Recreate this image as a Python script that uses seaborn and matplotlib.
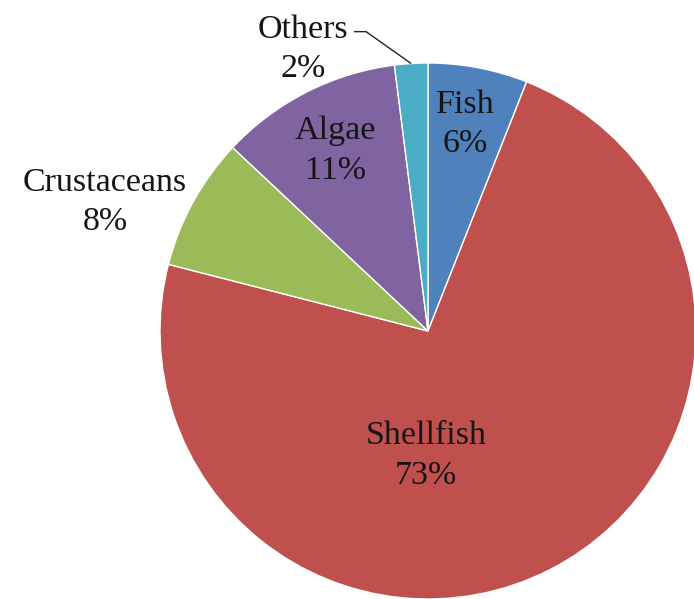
import matplotlib
matplotlib.use("Agg")
import matplotlib.pyplot as plt
import seaborn as sns
import numpy as np

# Share of production by group
categories = ["Fish", "Shellfish", "Crustaceans", "Algae", "Others"]
shares = [6, 73, 8, 11, 2]
colors = ["#4F81BD", "#C0504D", "#9BBB59", "#8064A2", "#4BACC6"]

# Label centres, in pie-radius units relative to the pie centre
label_xy = {
    "Fish": (0.138, 0.772),
    "Shellfish": (-0.007, -0.466),
    "Crustaceans": (-1.205, 0.481),
    "Algae": (-0.347, 0.672),
    "Others": (-0.466, 1.052),
}

sns.set_theme(style="white")
plt.rcParams["font.family"] = ["Liberation Serif", "DejaVu Serif"]

W, H = 694, 599
R_PX = 268
CX, CY = 428, 331  # pie centre in pixels from top-left

fig = plt.figure(figsize=(W / 100, H / 100), dpi=100)
ax = fig.add_axes([0, 0, 1, 1])

wedges, _ = ax.pie(
    shares,
    colors=colors,
    startangle=90,
    counterclock=False,
    radius=1.0,
    wedgeprops=dict(edgecolor="white", linewidth=1.0),
)

ax.set_xlim(-CX / R_PX, (W - CX) / R_PX)
ax.set_ylim(-(H - CY) / R_PX, CY / R_PX)
ax.set_aspect("auto")
ax.axis("off")

for cat, val in zip(categories, shares):
    x, y = label_xy[cat]
    ax.text(x, y, f"{cat}\n{val}%", ha="center", va="center",
            fontsize=24.5, color="#151515", linespacing=1.38)

# Leader line from the "Others" label to its wedge
w = wedges[categories.index("Others")]
mid = np.deg2rad((w.theta1 + w.theta2) / 2)
ex, ey = np.cos(mid), np.sin(mid)
lx, ly = label_xy["Others"]
sx, sy = lx + 0.19, ly + 0.065
ax.plot([sx, sx + 0.045, ex], [sy, sy, ey], color="#222222", lw=1.0,
        solid_capstyle="butt")

fig.savefig("out.png", dpi=100)
